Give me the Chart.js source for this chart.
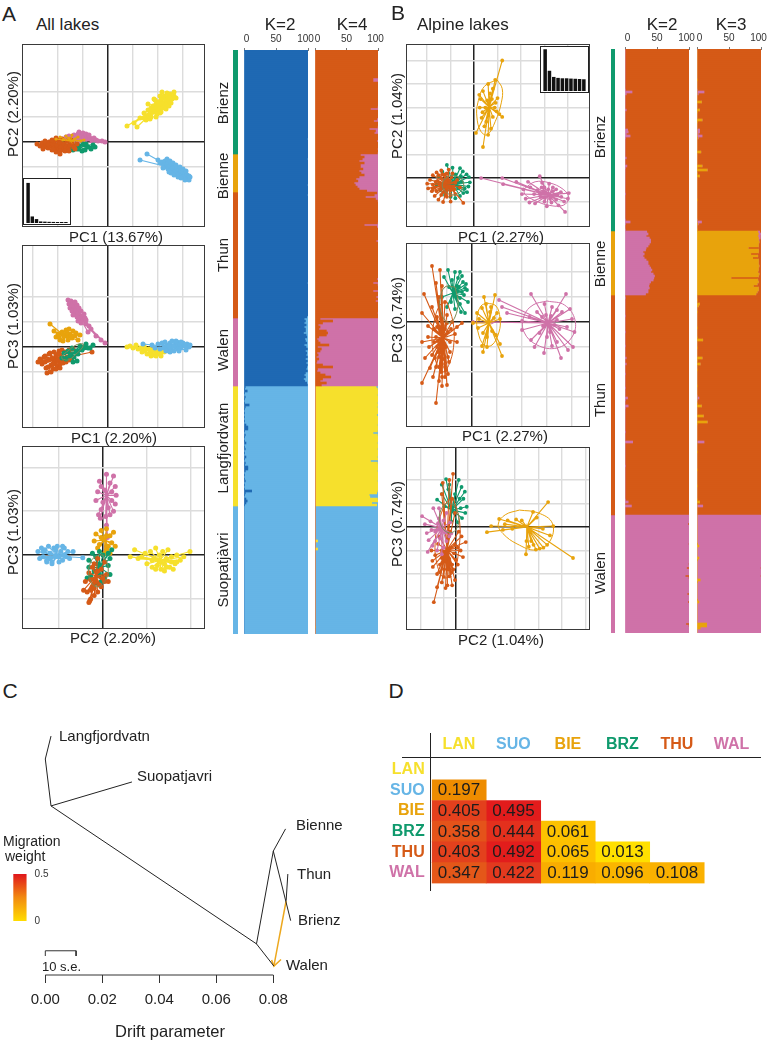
<!DOCTYPE html>
<html>
<head>
<meta charset="utf-8">
<script src="https://cdn.jsdelivr.net/npm/chart.js@4"></script>
<style>
  html, body { margin: 0; padding: 0; background: #fff; }
  body { position: relative; width: 767px; height: 1041px; overflow: hidden; font-family: "Liberation Sans", Arial, sans-serif; color: #222; }
  canvas { position: absolute; }
  .txt { position: absolute; white-space: nowrap; line-height: 1; }
  .box { position: absolute; outline: 1.5px solid #3a3a3a; }
  .rule { position: absolute; background: #222; }
</style>
</head>
<body>
<script>
// colours
const YEL = '#f6e02c', BLU = '#66b5e6', PNK = '#cf72a8', ORG = '#d55a17', GRN = '#0f9a6d', GLD = '#e8a30c', DBL = '#1f69b3';

// ---- PCA scores, first pair of every list is the group centroid ----
// A: PC1 / PC2
const a1Yellow = [[100,70],[38,32],[52,38],[58,30],[64,48],[72,58],[78,52],[80,64],[84,56],[86,68],[88,60],[90,72],[92,64],[94,60],[96,76],[98,68],[100,62],[100,80],[102,72],[104,66],[106,84],[108,76],[110,68],[110,88],[112,78],[114,72],[116,84],[118,76],[120,90],[122,82],[124,96],[128,86],[132,92],[136,88],[132,100],[130,88],[92,86],[84,46],[96,50],[104,58],[108,100],[80,76],[86,50],[94,84],[98,56],[104,92],[106,60],[112,92],[116,66],[122,72],[126,78],[118,98],[76,44],[72,48],[124,88]];
const a1Blue = [[128,-52],[78,-24],[64,-36],[100,-36],[104,-42],[108,-40],[112,-46],[114,-38],[116,-50],[118,-44],[120,-42],[120,-54],[124,-48],[126,-56],[128,-44],[130,-52],[132,-60],[134,-50],[136,-58],[138,-52],[140,-64],[142,-56],[144,-62],[146,-58],[148,-66],[150,-60],[152,-68],[154,-62],[156,-70],[158,-66],[160,-72],[162,-68],[164,-70],[162,-76],[150,-70],[136,-64],[126,-62],[110,-52],[118,-34],[124,-38],[130,-42],[136,-46],[144,-50],[150,-54],[156,-58],[122,-60],[132,-66],[140,-70],[146,-72],[154,-76]];
const a1Orange = [[-100,-6],[-142,-4],[-136,-8],[-132,-2],[-128,-10],[-124,-4],[-120,-12],[-118,0],[-116,-8],[-112,-16],[-110,-4],[-108,2],[-106,-12],[-104,-20],[-102,-6],[-100,4],[-98,-14],[-96,-2],[-94,-10],[-92,6],[-90,-16],[-88,-4],[-84,-10],[-82,2],[-80,-14],[-76,-6],[-72,-2],[-68,-10],[-62,-4],[-110,-14],[-96,-18],[-130,-14],[-120,-4],[-112,4],[-104,8],[-96,-24],[-86,-18],[-78,-18],[-74,4],[-66,-14],[-126,2]];
const a1Gold = [[-75,2],[-104,6],[-96,10],[-90,4],[-84,12],[-78,8],[-72,14],[-66,6],[-60,10],[-54,2],[-48,4]];
const a1Pink = [[-60,6],[-92,6],[-84,10],[-78,12],[-72,8],[-68,14],[-64,10],[-60,16],[-56,8],[-52,14],[-48,10],[-46,4],[-42,12],[-40,6],[-36,8],[-32,2],[-28,8],[-24,4],[-20,2],[-12,2],[-6,0],[-50,0],[-60,0],[-70,2],[-58,20],[-50,18],[-44,16],[-38,14]];
const a1Green = [[-60,-6],[-98,-16],[-84,-8],[-76,-14],[-70,-16],[-64,-8],[-62,-14],[-58,-14],[-52,-18],[-46,-16],[-40,-10],[-34,-14],[-30,-6],[-26,-10],[-50,-4],[-72,-4],[-44,-4]];

// A: PC1 / PC3
const a2Pink = [[-56,58],[-80,94],[-74,92],[-78,86],[-70,88],[-76,78],[-68,80],[-62,84],[-72,72],[-64,74],[-58,78],[-66,66],[-60,68],[-54,72],[-52,62],[-58,58],[-62,60],[-50,54],[-46,58],[-54,48],[-44,46],[-38,42],[-34,36],[-40,30],[-24,22],[-14,14],[-6,8],[-72,84],[-66,90],[-70,64],[-48,66],[-60,52],[-44,54]];
const a2Gold = [[-84,20],[-116,46],[-108,32],[-104,20],[-100,26],[-96,14],[-92,30],[-88,22],[-84,34],[-80,14],[-76,26],[-72,18],[-70,32],[-66,22],[-60,14],[-56,24],[-90,12],[-78,36],[-98,20],[-90,26],[-82,28],[-74,22],[-64,28]];
const a2Orange = [[-106,-26],[-140,-30],[-136,-24],[-132,-34],[-128,-20],[-126,-30],[-124,-42],[-122,-52],[-120,-26],[-118,-14],[-114,-36],[-112,-22],[-110,-44],[-108,-10],[-106,-30],[-104,-18],[-102,-38],[-100,-26],[-98,-8],[-96,-34],[-94,-16],[-90,-24],[-86,-10],[-82,-20],[-78,-6],[-74,-14],[-70,-4],[-120,-40],[-114,-50],[-32,-10],[-126,-18],[-116,-12],[-110,-34],[-104,-44],[-96,-42],[-90,-32],[-84,-30],[-78,-26],[-72,-22],[-134,-28],[-100,-14],[-92,-6]];
const a2Green = [[-72,-14],[-92,-22],[-88,-12],[-84,-24],[-80,-8],[-76,-18],[-72,-2],[-68,-20],[-64,-8],[-60,-14],[-56,2],[-52,-6],[-48,0],[-44,6],[-40,-2],[-36,-2],[-30,4],[-70,-30],[-62,-28]];
const a2GreenRing = [[-92,-24],[-80,-26],[-66,-16],[-52,-2],[-50,6],[-64,4],[-80,-8],[-92,-18],[-92,-24]];
const a2Yellow = [[84,-6],[38,0],[44,2],[50,-2],[56,4],[60,-4],[66,-2],[68,-10],[72,2],[74,-8],[78,-14],[82,-4],[84,-12],[88,-6],[90,-16],[94,-4],[98,-12],[100,-8],[104,-14],[108,-6],[112,-10],[116,-4],[122,-8],[76,-4],[86,-18],[96,-18],[106,-18]];
const a2Blue = [[128,0],[70,6],[88,4],[94,-2],[100,6],[104,-4],[108,8],[112,-2],[114,10],[118,4],[120,-6],[124,8],[126,-2],[128,12],[132,-8],[134,4],[138,10],[140,-4],[144,6],[146,-2],[150,8],[154,2],[158,6],[162,0],[164,4],[156,-6],[116,-8],[124,-10],[136,12],[146,10],[142,-8],[130,2],[122,2]];

// A: PC2 / PC3
const a3Pink = [[4,68],[-4,84],[4,92],[12,90],[-2,78],[8,82],[14,78],[-6,72],[2,74],[10,72],[15,68],[-8,62],[0,60],[10,62],[14,58],[-2,52],[6,54],[12,50],[-5,46],[3,44],[8,46],[-3,42],[4,34],[5,20],[4,10]];
const a3Gold = [[2,17],[-10,16],[-8,24],[-4,12],[-2,28],[0,18],[4,30],[6,10],[8,22],[10,14],[-6,8],[12,26],[4,6],[14,10],[2,2],[8,2],[-2,20],[4,22]];
const a3Green = [[-4,-14],[-16,-6],[-12,2],[-8,-2],[-4,4],[0,0],[6,2],[8,-4],[10,6],[6,-12],[8,-22],[2,-26],[-2,-30],[-8,-32],[-14,-24],[-18,-26],[-16,-14],[-10,-18],[-4,-22],[2,-8],[-6,-10]];
const a3GreenRing = [[0,0],[6,-14],[2,-30],[-8,-36],[-16,-24],[-14,-8],[-6,0],[0,0]];
const a3Orange = [[-8,-24],[-20,-30],[-18,-42],[-22,-40],[-16,-20],[-14,-50],[-15,-52],[-12,-36],[-10,-10],[-10,-46],[-8,-30],[-6,-42],[-6,-4],[-4,-34],[-2,-16],[0,-26],[2,-8],[4,-22],[6,-30],[-14,-28],[-12,-14],[-16,-54],[-10,-38],[-14,-40],[-6,-18],[-2,-36],[2,-30]];
const a3Blue = [[-52,-1],[-74,4],[-72,-4],[-70,8],[-68,-2],[-66,6],[-64,-6],[-62,10],[-60,2],[-58,-8],[-56,8],[-54,-2],[-52,10],[-50,-8],[-48,4],[-46,-6],[-44,8],[-42,-2],[-40,4],[-38,-4],[-34,4],[-23,-3],[-58,-10],[-46,10],[-64,-8],[-60,-4],[-54,6],[-50,-2],[-44,0],[-68,4]];
const a3Yellow = [[65,-6],[31,-2],[36,6],[40,-4],[44,-2],[48,2],[50,-10],[54,4],[56,-14],[58,-4],[60,8],[62,-12],[64,0],[66,-16],[68,4],[70,-10],[72,-4],[74,6],[76,-14],[78,-2],[82,-10],[84,0],[88,-6],[92,-2],[99,4],[70,-18],[80,-16],[56,-6],[60,-16],[64,-8],[72,-14],[78,-8],[84,-8]];

// B: PC1 / PC2
const b1Gold = [[32,151],[60,250],[45,209],[30,200],[11,177],[14,168],[19,185],[34,180],[40,190],[50,170],[46,160],[60,130],[54,136],[4,96],[19,66],[30,92],[36,105],[26,120],[18,140],[12,150],[48,142],[40,130],[22,110],[38,168],[28,165],[44,150],[24,150],[16,128]];
const b1GoldRing = [[49,209],[60,190],[58,160],[45,120],[28,92],[14,100],[6,130],[8,160],[22,195],[49,209]];
const b1Green = [[-45,-13],[-58,28],[-46,22],[-30,21],[-24,14],[-16,8],[-11,2],[-9,-9],[-12,-18],[-15,-30],[-23,-32],[-30,-38],[-40,-43],[-50,-40],[-62,-36],[-72,-26],[-80,-14],[-76,4],[-68,14],[-34,-22],[-20,-22],[-28,4],[-40,8],[-26,-8]];
const b1GreenRing = [[-45,6],[-30,0],[-22,-15],[-30,-30],[-45,-36],[-60,-30],[-68,-15],[-60,0],[-45,6]];
const b1Orange = [[-55,-13],[-100,-12],[-98,-22],[-94,-4],[-90,-28],[-88,6],[-84,-38],[-80,12],[-76,-46],[-72,-24],[-70,16],[-66,-51],[-62,8],[-58,-40],[-54,18],[-50,-50],[-46,10],[-40,-34],[-36,-4],[-30,-20],[-23,-53],[-88,-14],[-78,-6],[-72,-16],[-66,-30],[-60,-8],[-50,-26],[-44,-18],[-84,-20],[-62,-28],[-70,0],[-82,-8],[-76,6],[-68,8],[-58,10],[-48,2],[-40,-10],[-42,-24],[-50,-36],[-60,-36],[-70,-36],[-80,-28],[-88,-22],[-64,-18],[-52,-6],[-74,-10],[-58,-20]];
const b1Pink = [[158,-36],[15,0],[60,0],[62,-13],[90,-8],[115,-8],[120,-20],[105,-24],[102,-34],[110,-44],[118,-52],[130,-54],[142,-40],[140,4],[145,-10],[150,-20],[160,-12],[168,-20],[175,-24],[185,-30],[202,-32],[200,-44],[192,-50],[180,-58],[194,-72],[175,-46],[165,-52],[155,-60],[150,-50],[135,-26],[128,-34],[170,-36],[186,-40],[148,-28],[162,-44],[140,-34],[150,-42],[168,-28],[178,-36],[158,-24],[144,-20]];
const b1PinkRing = [[108,-22],[130,-8],[160,-10],[190,-24],[202,-42],[190,-58],[160,-58],[130,-48],[108,-34],[108,-22]];

// B: PC1 / PC3
const b2Orange = [[-58,-32],[-80,112],[-64,104],[-96,56],[-100,18],[-72,78],[-66,50],[-60,72],[-54,40],[-80,30],[-70,10],[-50,14],[-88,-8],[-40,0],[-30,-10],[-20,-2],[-34,-24],[-30,-40],[-100,-40],[-94,-72],[-86,-50],[-80,-66],[-72,-90],[-100,-122],[-72,-162],[-78,-110],[-66,-118],[-60,-128],[-50,-126],[-62,-100],[-52,-96],[-46,-80],[-56,-74],[-44,-60],[-68,-60],[-84,-92],[-76,-40],[-48,-20],[-62,-10],[-88,-30],[-70,-50],[-66,-70],[-60,-84],[-54,-90],[-48,-70],[-52,-50],[-60,-56],[-56,-44],[-72,-30],[-64,-20],[-58,-8],[-50,-2],[-42,-14],[-66,-90],[-74,-72],[-60,-110],[-54,-110],[-48,-104],[-70,-10],[-62,6],[-54,-14],[-44,-40],[-76,-14],[-68,-38]];
const b2OrangeRing = [[-50,40],[-38,0],[-36,-40],[-44,-80],[-58,-100],[-72,-80],[-80,-40],[-76,0],[-64,34],[-50,40]];
const b2Green = [[-38,58],[-48,104],[-24,100],[-10,64],[-8,40],[-14,18],[-34,100],[-56,90],[-40,84],[-28,88],[-18,80],[-16,54],[-26,70],[-46,70],[-60,50],[-50,30],[-34,26],[-24,36],[-42,40],[-32,50],[-20,92],[-12,76],[-22,20],[-30,72],[-20,60],[-14,68],[-24,48]];
const b2GreenRing = [[-34,70],[-28,40],[-34,10],[-46,-2],[-60,14],[-64,44],[-54,70],[-34,70]];
const b2Gold = [[34,-2],[46,54],[20,28],[2,-2],[22,-60],[60,-68],[56,-44],[24,50],[10,18],[14,6],[36,20],[50,18],[44,8],[56,6],[12,-12],[30,-30],[40,-18],[48,-26],[22,-22],[30,-50],[20,-48],[38,30],[28,36]];
const b2GoldRing = [[30,38],[48,32],[56,8],[54,-20],[40,-46],[24,-46],[12,-20],[10,10],[18,32],[30,38]];
const b2Pink = [[152,-2],[118,56],[188,56],[54,44],[60,30],[70,18],[2,0],[40,0],[100,2],[130,20],[145,36],[160,30],[170,24],[180,20],[196,26],[200,6],[190,-10],[205,-20],[192,-56],[202,-50],[178,-72],[144,-62],[118,-36],[100,-16],[125,-50],[160,-48],[170,-40],[150,-30],[135,-22],[140,10],[175,-14],[115,10],[148,14],[158,12],[165,-6],[142,-8],[156,-20],[170,4]];
const b2PinkRing = [[150,42],[185,34],[206,4],[200,-30],[170,-52],[130,-46],[104,-20],[104,12],[122,34],[150,42]];

// B: PC2 / PC3
const b3Gold = [[151,0],[196,53],[66,-11],[249,-66],[149,-58],[207,2],[92,17],[164,32],[110,14],[128,16],[140,14],[104,6],[75,2],[170,-48],[178,-46],[186,-44],[194,-38],[200,-18],[185,-4],[160,-30],[165,-38],[155,-42],[150,-30],[120,-4],[100,-6],[172,20]];
const b3GoldRing = [[135,36],[175,30],[205,8],[200,-30],[170,-49],[130,-36],[100,-14],[90,6],[105,26],[135,36]];
const b3Orange = [[-19,-49],[-6,113],[-28,94],[-14,100],[-47,-160],[-40,-128],[-2,-113],[21,-32],[15,-64],[-49,-85],[-30,70],[-8,60],[-2,30],[6,-10],[12,-20],[-12,-10],[-36,-20],[-30,-50],[-44,-60],[-52,-50],[-40,-100],[-30,-118],[-22,-130],[-14,-105],[-6,-90],[4,-80],[10,-50],[-34,-80],[-18,-124],[-8,-124],[-25,-90],[0,-70],[-50,-72],[-30,-66],[-22,-72],[-14,-68],[-8,-80],[-4,-56],[-16,-90],[-34,-96],[-26,-106],[-10,-96],[-2,-38],[-38,-36],[4,-44]];
const b3OrangeRing = [[-5,60],[8,10],[6,-50],[-5,-95],[-25,-108],[-40,-80],[-44,-30],[-34,20],[-18,55],[-5,60]];
const b3Green = [[-9,36],[-21,102],[6,100],[19,75],[23,43],[13,19],[-40,58],[-30,90],[-14,90],[-2,70],[12,85],[16,60],[10,40],[4,10],[-16,80],[-30,70],[-24,44],[-10,12],[20,30],[8,60]];
const b3GreenRing = [[-4,46],[6,22],[0,-6],[-17,-12],[-32,4],[-34,30],[-20,50],[-4,46]];
const b3Pink = [[-30,-2],[-72,23],[-62,-13],[-60,-53],[-54,12],[-48,40],[-66,6],[-40,-50],[-50,-40],[-20,-30],[-10,-14],[-12,10],[-20,30],[-30,-58],[-44,-30],[-36,18],[-58,-28],[-26,-44],[-14,-20],[-52,-6],[-36,40],[-44,-10],[-38,8],[-26,14],[-34,-24],[-22,-12]];

// scree insets
const screeA = [41,6.7,4,1.6,1.4,1.2,1.1,1,1,1];
const screeB = [42.7,20.7,14.4,13.4,13,13,12.7,12.5,12.3,12];

// ---- ancestry, one number per individual ----
const popRowsA = [52,19,63,34,60,64];
const popRowsB = [91,32,110,59];
const shareTicks = [0, 50, 100];

// A K=2, share of the dark blue cluster
const aK2Brienz = [100,100,100,100,100,100,100,100,100,100,
  100,100,100,100,100,100,100,100,100,100,
  100,100,100,100,100,100,100,100,100,100,
  100,100,100,100,100,100,100,100,100,100,
  100,100,100,100,99,100,100,100,100,100,
  100,100];
const aK2Bienne = [100,100,99,100,100,100,100,100,100,100,100,100,100,100,100,99,100,100,100];
const aK2Thun = [100,99,100,100,100,100,100,100,100,100,
  100,100,100,100,100,100,100,100,100,100,
  100,100,100,100,100,100,100,100,100,100,
  100,100,100,100,100,100,100,100,100,100,
  100,100,100,100,100,99,100,100,100,100,
  100,100,100,100,100,100,100,100,100,100,100,100,98];
const aK2Walen = [94,96,94,97,94,96,96,93,97,98,
  95,96,98,94,97,99,96,98,97,99,
  96,99,97,99,98,97,99,96,94,96,
  93,95,98,99];
const aK2Lang = [2,1,5,1,0,2,1,0,1,8,
  2,1,0,1,0,1,0,1,0,3,
  6,6,1,0,2,1,0,1,3,0,
  1,2,0,1,0,3,1,0,2,1,
  6,6,2,0,1,0,1,2,0,1,
  0,1,12,2,1,0,3,5,3,1];
const aK2Suo = [0,0,0,0,0,0,0,0,0,0,0,0,0,0,0,0,
  0,0,0,0,0,0,0,0,0,0,0,0,0,0,0,0,
  0,0,0,0,0,0,0,0,0,0,0,0,0,0,0,0,
  0,0,0,0,0,0,0,0,0,0,0,0,0,0,0,0];

// A K=4
const aK4BrienzPink = [0,0,0,0,0,0,0,0,0,0,
  0,0,0,0,8,8,0,0,0,0,
  0,0,0,0,0,0,0,0,1,12,
  0,0,0,0,2,7,0,0,1,14,
  4,6,0,0,0,2,0,0,0,1,0,1];
const aK4BiennePink = [28,22,25,30,22,28,28,24,30,27,22,30,35,32,38,36,33,30,18];
const aK4ThunPink = [2,6,20,4,1,0,0,0,0,0,
  0,0,0,0,0,1,22,2,0,0,
  0,0,0,0,3,0,0,0,0,0,
  0,0,0,0,0,0,0,0,0,0,
  0,0,0,2,0,8,1,0,0,8,
  0,0,3,0,4,0,0,0,0,0,1,0,0];
const aK4WalenOrange = [8,28,12,5,8,6,18,20,18,6,
  3,5,8,22,4,10,8,3,5,2,
  6,3,2,12,28,4,3,8,16,25,
  12,8,18,10];
const aK4LangBlue = [3,1,0,0,1,0,0,0,1,0,
  1,0,0,0,2,0,0,0,0,1,
  0,0,1,8,1,0,0,0,1,0,
  0,1,0,0,0,1,0,12,1,0,
  0,0,1,0,0,0,0,1,0,0,
  0,0,1,2,14,13,1,0,10,2];
const aK4SuoYellow = [0,0,0,0,0,0,0,0,0,0,0,0,0,0,0,0,0,4,0,0,0,4,0,0,0,0,0,0,0,0,0,0,
  0,0,0,0,0,0,0,0,0,0,0,0,0,0,0,0,0,0,0,0,0,0,0,0,0,0,0,0,1,0,0,0];

// B K=2
const bK2BrienzPink = [0,0,0,0,0,0,0,0,0,0,
  0,0,0,0,0,0,0,0,0,0,
  1,11,2,0,0,0,0,0,0,0,
  2,0,0,0,0,0,0,0,0,0,
  4,5,2,8,1,0,0,0,0,0,
  0,0,0,0,2,0,0,0,3,1,
  0,0,0,0,0,0,0,0,0,0,
  0,0,1,0,0,0,0,0,0,0,
  0,0,0,0,0,1,8,1,0,0,1];
const bK2BiennePink = [34,36,33,38,40,40,38,36,33,32,28,30,28,30,33,36,36,38,40,42,40,44,46,45,44,40,38,37,38,36,36,32];
const bK2ThunPink = [0,1,0,0,0,0,0,0,0,0,
  1,0,0,0,0,0,0,0,1,0,
  0,0,0,0,0,1,0,0,0,0,
  0,2,0,0,2,0,0,0,0,1,
  0,0,0,0,0,0,1,0,0,0,
  0,4,1,0,0,5,1,0,0,0,
  0,0,0,0,0,0,0,0,1,0,
  0,0,0,12,0,0,0,0,0,0,
  0,0,0,0,0,1,0,0,0,0,
  0,0,0,0,0,0,0,0,0,0,
  0,0,1,5,0,10,0,0,0,0];
const bK2WalenOrange = [0,0,0,0,2,0,0,0,0,0,
  0,0,0,0,1,0,0,0,0,0,
  0,0,0,0,1,0,4,0,0,0,
  6,1,0,0,0,0,0,0,0,3,
  0,0,0,2,0,0,0,0,0,0,
  0,0,0,0,5,1,0,0,0];

// B K=3
const bK3BrienzGold = [0,0,0,0,0,0,0,0,0,0,
  0,0,0,0,0,1,0,0,0,0,
  0,0,0,0,0,0,7,0,0,0,
  4,1,0,0,0,8,1,0,0,0,
  0,0,0,0,1,0,0,0,0,0,
  0,6,0,0,0,0,0,0,8,1,
  16,0,1,4,0,0,0,0,0,0,
  0,0,0,0,0,1,0,0,0,0,
  0,0,0,0,0,0,0,1,0,0,1];
const bK3BrienzPink = [0,0,0,0,0,0,0,0,0,0,
  0,0,0,0,0,0,0,0,0,0,
  1,11,2,0,0,0,0,0,0,0,
  0,0,0,0,0,0,0,0,0,0,
  4,4,2,8,1,0,0,0,0,0,
  0,0,0,0,0,0,0,0,0,0,
  0,0,0,0,0,0,0,0,0,0,
  0,0,0,0,0,0,0,0,0,0,
  0,0,0,0,0,1,7,1,0,0,0];
const bK3BienneGold = [95,96,95,96,96,97,96,96,80,96,96,84,95,87,96,96,96,97,96,96,95,97,96,53,95,96,94,88,96,96,94,92];
const bK3BiennePink = [3,4,4,3,1,0,0,0,0,0,0,0,0,0,0,0,0,0,0,0,0,0,0,0,0,0,0,0,0,0,0,0];
const bK3ThunGold = [0,0,1,0,4,2,0,0,1,0,
  0,0,0,0,0,0,1,0,0,0,
  0,1,9,0,0,0,1,0,0,0,
  0,8,1,0,5,0,0,1,0,0,
  0,0,0,0,0,1,0,0,0,0,
  0,0,0,0,1,7,0,0,0,0,
  10,0,0,16,1,0,0,0,0,0,
  0,0,0,0,0,0,0,0,1,0,
  0,0,0,0,0,0,0,1,0,0,
  0,0,0,0,0,1,0,0,0,0,
  0,0,1,4,0,0,0,0,0,0];
const bK3ThunPink = [0,0,0,0,0,0,0,0,0,0,
  0,0,0,0,0,0,0,0,0,0,
  0,0,0,0,0,0,0,0,0,0,
  0,0,0,0,0,0,0,0,0,0,
  0,0,0,0,0,0,0,0,0,0,
  1,3,1,0,0,0,0,0,0,0,
  0,0,0,0,0,0,0,0,0,0,
  0,0,0,11,0,0,0,0,0,0,
  0,0,0,0,0,0,0,0,0,0,
  0,0,0,0,0,0,0,0,0,0,
  0,0,0,0,0,9,0,0,0,0];
const bK3WalenGold = [0,0,0,0,0,0,0,0,0,0,
  0,0,0,0,1,3,0,0,0,0,
  0,3,1,0,0,0,0,0,0,0,
  0,0,5,1,0,0,0,0,0,0,
  0,0,1,3,0,0,0,0,0,0,
  0,0,0,0,15,15,5,0,0];
const bK3WalenOrange = [0,0,0,0,0,0,0,0,0,0,
  0,0,0,0,0,0,0,0,0,0,
  0,0,0,0,0,0,1,0,0,0,
  1,0,0,0,0,0,0,0,0,0,
  0,0,0,0,0,0,0,0,0,0,
  0,0,0,0,0,0,0,0,0];

// ---- treemix graph, drift on x ----
const driftTicks = [0, 0.02, 0.04, 0.06, 0.08];
const driftAxis = [[0,0],[0.08,0]];
const langBranch = [[0.002,0.937],[0,0.847],[0.002,0.663]];
const suoBranch = [[0.002,0.663],[0.0304,0.757]];
const trunkBranch = [[0.002,0.663],[0.0741,0.122],[0.0802,0.035]];
const alpineBranch = [[0.0741,0.122],[0.08,0.486],[0.0843,0.573]];
const brienzBranch = [[0.08,0.486],[0.0861,0.213]];
const thunBranch = [[0.0845,0.291],[0.0851,0.396]];
const migrationEdge = [[0.0845,0.291],[0.0802,0.035]];
const migrationHead = [[0.0794,0.059],[0.0802,0.035],[0.0827,0.061]];
const scaleBar10se = [[0,0.0745],[0,0.095],[0.0108,0.095],[0.0108,0.0745]];

// ---- Fst table ----
const lakeCodes = ['LAN','SUO','BIE','BRZ','THU','WAL'];
const lakeColours = [YEL, BLU, GLD, GRN, ORG, PNK];
const fstLAN = [];
const fstSUO = [0.197];
const fstBIE = [0.405,0.495];
const fstBRZ = [0.358,0.444,0.061];
const fstTHU = [0.403,0.492,0.065,0.013];
const fstWAL = [0.347,0.422,0.119,0.096,0.108];
const fstStops = [[0,255,232,0],[0.06,253,194,0],[0.12,249,173,0],[0.2,238,139,0],[0.35,228,86,26],[0.42,227,58,30],[0.5,226,26,28]];

// ---- helpers ----
Chart.defaults.font.family = '"Liberation Sans", Arial, sans-serif';
Chart.defaults.animation = false;
Chart.defaults.responsive = false;
Chart.defaults.layout.autoPadding = false;
Chart.defaults.plugins.legend.display = false;
Chart.defaults.plugins.tooltip.enabled = false;

function addCanvas(left, top, w, h) {
  const c = document.createElement('canvas');
  c.width = w; c.height = h;
  c.style.left = left + 'px'; c.style.top = top + 'px';
  c.style.width = w + 'px'; c.style.height = h + 'px';
  document.body.appendChild(c);
  return c;
}
function text(str, x, y, size, opt) {
  opt = opt || {};
  const d = document.createElement('div');
  d.className = 'txt';
  d.textContent = str;
  d.style.left = x + 'px'; d.style.top = y + 'px';
  d.style.fontSize = size + 'px';
  if (opt.rot) d.style.transform = 'translate(-50%,-50%) rotate(-90deg)';
  else if (opt.left) d.style.transform = 'translateY(-50%)';
  else d.style.transform = 'translate(-50%,-50%)';
  document.body.appendChild(d);
}
function rule(l, t, w, h) {
  const d = document.createElement('div');
  d.className = 'rule';
  d.style.cssText = `left:${l}px;top:${t}px;width:${w}px;height:${h}px`;
  document.body.appendChild(d);
}
function spider(list, colour, r) {
  const c = list[0], data = [], size = r || 1.9;
  list.slice(1).forEach(p => { data.push({x:c[0],y:c[1]}); data.push({x:p[0],y:p[1]}); });
  return { data, showLine:true, borderColor:colour, backgroundColor:colour, borderWidth:1.1,
    pointRadius: ctx => ctx.dataIndex % 2 ? size : 0, pointBorderWidth:0 };
}
function ring(list, colour) {
  return { data:list.map(p => ({x:p[0],y:p[1]})), showLine:true, borderColor:colour, borderWidth:1, pointRadius:0, tension:0.4 };
}
// layers are given bottom to top, chart.js paints the first dataset last
function pcaPanel(l, t, w, h, xr, yr, xGrid, yGrid, layers) {
  const grid = { color: ctx => ctx.tick.value === 0 ? '#222' : '#dcdcdc', lineWidth: ctx => ctx.tick.value === 0 ? 1.5 : 1.4, drawTicks:false };
  new Chart(addCanvas(l, t, w, h), {
    type:'scatter',
    data:{ datasets: layers.slice().reverse() },
    options:{
      layout:{ padding:0 },
      scales:{
        x:{ min:xr[0], max:xr[1], grid, border:{display:false}, ticks:{display:false},
            afterBuildTicks: s => { s.ticks = xGrid.map(v => ({value:v})); } },
        y:{ min:yr[0], max:yr[1], grid, border:{display:false}, ticks:{display:false},
            afterBuildTicks: s => { s.ticks = yGrid.map(v => ({value:v})); } }
      }
    }
  });
  const b = document.createElement('div');
  b.className = 'box';
  b.style.cssText = `left:${l}px;top:${t}px;width:${w}px;height:${h}px`;
  document.body.appendChild(b);
}
function scree(l, t, w, h, values) {
  const b = document.createElement('div');
  b.className = 'box';
  b.style.cssText = `left:${l}px;top:${t}px;width:${w}px;height:${h}px;background:#fff;outline-color:#222`;
  document.body.appendChild(b);
  new Chart(addCanvas(l, t, w, h), {
    type:'bar',
    data:{ labels:values.map((v,i) => i+1), datasets:[{ data:values, backgroundColor:'#111', barPercentage:0.82, categoryPercentage:1 }] },
    options:{
      layout:{ padding:{left:2,right:2,top:0,bottom:1} },
      scales:{ x:{display:false}, y:{display:false,min:0,max:45} }
    }
  });
}
function ancestry(l, t, w, rows, series) {
  const head = 20, side = 12, marks = 3;
  new Chart(addCanvas(l-side, t-head, w+2*side, rows*2+head), {
    type:'bar',
    data:{ labels:series[0].data.map((v,i) => i),
      datasets:series.map(s => ({ data:s.data, backgroundColor:s.colour, borderWidth:0, barPercentage:1, categoryPercentage:1 })) },
    options:{
      indexAxis:'y',
      layout:{ padding:{left:side,right:side,top:0,bottom:0} },
      scales:{
        y:{ display:false, stacked:true },
        // the axis with the marks, its labels live on the slightly wider axis above it
        x:{ position:'top', stacked:true, min:0, max:100, weight:0,
            border:{color:'#777',width:1},
            grid:{drawOnChartArea:false,color:'#777',tickLength:2},
            ticks:{display:false},
            afterBuildTicks: s => { s.ticks = shareTicks.map(v => ({value:v})); },
            afterFit: s => { s.height = marks; } },
        shareLabels:{ axis:'x', position:'top', min:-4.2, max:104.2, weight:1,
            border:{display:false},
            grid:{display:false,drawTicks:false},
            ticks:{color:'#333',font:{size:10},padding:2,maxRotation:0,autoSkip:false},
            afterBuildTicks: s => { s.ticks = shareTicks.map(v => ({value:v})); },
            afterFit: s => { s.height = head - marks; } }
      }
    }
  });
}
function strip(l, t, w, counts, colours) {
  const total = counts.reduce((a,b) => a+b, 0);
  new Chart(addCanvas(l, t, w, total*2), {
    type:'bar',
    data:{ labels:['rows'], datasets:counts.map((n,i) => ({ data:[n], backgroundColor:colours[i], barPercentage:1, categoryPercentage:1 })) },
    options:{ layout:{padding:0}, scales:{ x:{display:false,stacked:true}, y:{display:false,stacked:true,reverse:true,min:0,max:total} } }
  });
}
const less = v => 100 - v;
const zeros = n => new Array(n).fill(0);

// ---- panel A ----
const RA = 2.5;
text('A', 9, 13, 21);
text('All lakes', 36, 24, 17, {left:true});
pcaPanel(23, 45, 181, 181, [-170,192], [-168,194], [-100,-50,0,50,100,150], [-50,0,50,100],
  [spider(a1Yellow,YEL,RA), spider(a1Blue,BLU,RA), spider(a1Pink,PNK,RA), spider(a1Green,GRN,RA), spider(a1Orange,ORG,RA), spider(a1Gold,GLD,1.6)]);
scree(24, 179, 46, 45, screeA);
pcaPanel(23, 246, 181, 181, [-170,192], [-160,202], [-150,-100,-50,0,50,100,150], [-50,0,50,100],
  [spider(a2Yellow,YEL,RA), spider(a2Blue,BLU,RA), spider(a2Pink,PNK,RA), spider(a2Gold,GLD,RA), spider(a2Orange,ORG,RA), spider(a2Green,GRN,RA), ring(a2GreenRing,'#7b8a55')]);
pcaPanel(23, 447, 181, 181, [-91,115], [-83,123], [-50,0,50,100], [-50,0,50,100],
  [spider(a3Blue,BLU,RA), spider(a3Yellow,YEL,RA), spider(a3Pink,PNK,RA), spider(a3Gold,GLD,RA), spider(a3Green,GRN,RA), spider(a3Orange,ORG,RA), ring(a3GreenRing,'#7b8a55')]);
text('PC2 (2.20%)', 12, 114, 15, {rot:true});
text('PC1 (13.67%)', 116, 236, 15);
text('PC3 (1.03%)', 12, 326, 15, {rot:true});
text('PC1 (2.20%)', 114, 437, 15);
text('PC3 (1.03%)', 12, 532, 15, {rot:true});
text('PC2 (2.20%)', 113, 637, 15);

strip(233, 50, 5, popRowsA, [GRN,GLD,ORG,PNK,YEL,BLU]);
text('Brienz', 222, 103, 15, {rot:true});
text('Bienne', 222, 176, 15, {rot:true});
text('Thun', 222, 255, 15, {rot:true});
text('Walen', 222, 350, 15, {rot:true});
text('Langfjordvatn', 222, 448, 15, {rot:true});
text('Suopatjàvri', 222, 570, 15, {rot:true});

const aDark = [...aK2Brienz, ...aK2Bienne, ...aK2Thun, ...aK2Walen, ...aK2Lang, ...aK2Suo];
ancestry(244, 50, 64, 292, [ {data:aDark, colour:DBL}, {data:aDark.map(less), colour:BLU} ]);
const alpineRows = 52+19+63+34;
ancestry(315, 50, 63, 292, [
  {data:[...aK4BrienzPink.map(less), ...aK4BiennePink.map(less), ...aK4ThunPink.map(less), ...aK4WalenOrange, ...zeros(124)], colour:ORG},
  {data:[...aK4BrienzPink, ...aK4BiennePink, ...aK4ThunPink, ...aK4WalenOrange.map(less), ...zeros(124)], colour:PNK},
  {data:[...zeros(alpineRows), ...aK4LangBlue.map(less), ...aK4SuoYellow], colour:YEL},
  {data:[...zeros(alpineRows), ...aK4LangBlue, ...aK4SuoYellow.map(less)], colour:BLU}
]);
text('K=2', 280, 24, 17);
text('K=4', 352, 24, 17);

// ---- panel B ----
text('B', 398, 12, 21);
text('Alpine lakes', 417, 24, 17, {left:true});
pcaPanel(407, 45, 182, 181, [-143,245], [-102,283], [-100,-50,0,50,100,150,200], [-50,0,50,100,150,200,250],
  [spider(b1Gold,GLD), ring(b1GoldRing,GLD), spider(b1Pink,PNK), ring(b1PinkRing,PNK), spider(b1Green,GRN), spider(b1Orange,ORG), ring(b1GreenRing,'#7b8a55')]);
scree(541, 47, 47, 45, screeB);
pcaPanel(407, 244, 182, 182, [-130,234], [-208,156], [-100,-50,0,50,100,150,200], [-150,-100,-50,0,50,100],
  [spider(b2Pink,PNK), ring(b2PinkRing,PNK), spider(b2Gold,GLD), ring(b2GoldRing,GLD), spider(b2Green,GRN), spider(b2Orange,ORG), ring(b2OrangeRing,ORG), ring(b2GreenRing,'#7b8a55')]);
pcaPanel(407, 448, 182, 181, [-104,283], [-217,168], [-75,-25,0,25,126,176,225,275], [-150,-100,-50,0,50,100],
  [spider(b3Gold,GLD), ring(b3GoldRing,GLD), spider(b3Green,GRN), spider(b3Orange,ORG), ring(b3OrangeRing,ORG), spider(b3Pink,PNK), ring(b3GreenRing,'#7b8a55')]);
text('PC2 (1.04%)', 396, 116, 15, {rot:true});
text('PC1 (2.27%)', 501, 236, 15);
text('PC3 (0.74%)', 396, 320, 15, {rot:true});
text('PC1 (2.27%)', 505, 435, 15);
text('PC3 (0.74%)', 396, 524, 15, {rot:true});
text('PC2 (1.04%)', 501, 639, 15);

strip(611, 49, 4, popRowsB, [GRN,GLD,ORG,PNK]);
text('Brienz', 599, 137, 15, {rot:true});
text('Bienne', 599, 264, 15, {rot:true});
text('Thun', 599, 400, 15, {rot:true});
text('Walen', 599, 573, 15, {rot:true});

const bPink2 = [...bK2BrienzPink, ...bK2BiennePink, ...bK2ThunPink, ...bK2WalenOrange.map(less)];
ancestry(625, 49, 64, 292, [ {data:bPink2, colour:PNK}, {data:bPink2.map(less), colour:ORG} ]);
const bGold3 = [...bK3BrienzGold, ...bK3BienneGold, ...bK3ThunGold, ...bK3WalenGold];
const bPink3 = [...bK3BrienzPink, ...bK3BiennePink, ...bK3ThunPink, ...bK3WalenGold.map((g,i) => 100 - g - bK3WalenOrange[i])];
ancestry(697, 49, 64, 292, [
  {data:bGold3, colour:GLD},
  {data:bPink3, colour:PNK},
  {data:bGold3.map((g,i) => 100 - g - bPink3[i]), colour:ORG}
]);
text('K=2', 662, 24, 17);
text('K=3', 731, 24, 17);

// ---- panel C ----
text('C', 10, 690, 21);
const line = (pts, colour, width) => ({ data:pts.map(p => ({x:p[0],y:p[1]})), showLine:true, borderColor:colour, borderWidth:width || 1, pointRadius:0, clip:false });
new Chart(addCanvas(0, 720, 380, 321), {
  type:'scatter',
  data:{ datasets:[
    line(langBranch,'#222'), line(suoBranch,'#222'), line(trunkBranch,'#222'), line(alpineBranch,'#222'),
    line(brienzBranch,'#222'), line(thunBranch,'#222'),
    line(migrationEdge,'#eda81e',1.5), line(migrationHead,'#eda81e',1.5), line(scaleBar10se,'#333'), line(driftAxis,'#333')
  ]},
  options:{
    layout:{ padding:{left:45.3,right:49.7,top:0,bottom:0} },
    scales:{
      y:{ display:false, min:0, max:1 },
      x:{ min:0, max:0.1,
          border:{display:false},
          grid:{drawOnChartArea:false,color:'#333',tickLength:8},
          ticks:{ color:'#222', font:{size:15}, padding:8, maxRotation:0, autoSkip:false, callback:v => v.toFixed(2) },
          afterBuildTicks: s => { s.ticks = driftTicks.map(v => ({value:v})); },
          afterFit: s => { s.height = 66; } }
    }
  }
});
text('Drift parameter', 170, 1031, 16.5);
text('Langfjordvatn', 59, 735, 15, {left:true});
text('Suopatjavri', 137, 775, 15, {left:true});
text('Bienne', 296, 824, 15, {left:true});
text('Thun', 297, 873, 15, {left:true});
text('Brienz', 298, 919, 15, {left:true});
text('Walen', 286, 964, 15, {left:true});
text('10 s.e.', 42, 966, 13, {left:true});
text('Migration', 3, 841, 14, {left:true});
text('weight', 5, 856, 14, {left:true});

// migration colour key
new Chart(addCanvas(10, 860, 50, 75), {
  type:'bar',
  data:{ labels:['w'], datasets:[{ data:[[0,0.5]], barPercentage:1, categoryPercentage:1,
    backgroundColor: ctx => {
      const a = ctx.chart.chartArea;
      if (!a) return '#f00';
      const g = ctx.chart.ctx.createLinearGradient(0, a.bottom, 0, a.top);
      g.addColorStop(0, '#ffdc00'); g.addColorStop(0.5, '#f28a10'); g.addColorStop(1, '#e0161c');
      return g;
    } }] },
  options:{
    layout:{ padding:{left:3.3,right:0,top:9,bottom:10} },
    scales:{
      x:{ display:false },
      y:{ position:'right', min:0, max:0.5, border:{display:false}, grid:{display:false,drawTicks:false},
          ticks:{ color:'#333', font:{size:10}, padding:8, autoSkip:false },
          afterBuildTicks: s => { s.ticks = [{value:0},{value:0.5}]; },
          afterFit: s => { s.width = 33.4; } }
    }
  }
});

// ---- panel D ----
text('D', 396, 690, 21);
const fstRows = [fstLAN, fstSUO, fstBIE, fstBRZ, fstTHU, fstWAL];
function fstColour(v) {
  let i = 0;
  while (i < fstStops.length-2 && v > fstStops[i+1][0]) i++;
  const a = fstStops[i], b = fstStops[i+1], t = (v-a[0])/(b[0]-a[0]);
  return `rgb(${[1,2,3].map(k => Math.round(a[k]+(b[k]-a[k])*t)).join(',')})`;
}
const fstValues = {
  id:'fstValues',
  afterDatasetsDraw(chart) {
    const c = chart.ctx;
    c.save();
    c.font = '17px "Liberation Sans", Arial, sans-serif';
    c.fillStyle = '#1c1c1c'; c.textAlign = 'center'; c.textBaseline = 'middle';
    chart.data.datasets.forEach((ds, j) => {
      chart.getDatasetMeta(j).data.forEach((el, i) => {
        if (fstRows[i][j] === undefined) return;
        c.fillText(fstRows[i][j].toFixed(3), (el.x + el.base)/2, el.y + 0.5);
      });
    });
    c.restore();
  }
};
new Chart(addCanvas(380, 730, 387, 170), {
  type:'bar',
  plugins:[fstValues],
  data:{ labels:lakeCodes,
    datasets:lakeCodes.slice(0,5).map((code, j) => ({
      label:code,
      data:fstRows.map(r => r[j] === undefined ? null : [j, j+1]),
      backgroundColor:fstRows.map(r => r[j] === undefined ? 'transparent' : fstColour(r[j])),
      barPercentage:1, categoryPercentage:1, grouped:false, borderWidth:0
    })) },
  options:{
    indexAxis:'y',
    layout:{ padding:{left:0,right:8.3,top:0,bottom:9} },
    scales:{
      y:{ type:'category', border:{display:false}, grid:{display:false,drawTicks:false},
          ticks:{ padding:7, autoSkip:false, font:{size:16,weight:'bold'}, color:ctx => lakeColours[ctx.index] },
          afterFit: s => { s.width = 51.7; } },
      x:{ position:'top', min:0, max:6, border:{display:false}, grid:{display:false,drawTicks:false},
          ticks:{ padding:5, autoSkip:false, maxRotation:0, font:{size:16,weight:'bold'}, color:ctx => lakeColours[ctx.index], callback:(v,i) => lakeCodes[i] },
          afterBuildTicks: s => { s.ticks = lakeCodes.map((c,i) => ({value:i+0.5})); },
          afterFit: s => { s.height = 29; } }
    }
  }
});
rule(429.5, 733, 1.5, 158);
rule(402, 756.5, 359, 1.5);
</script>
</body>
</html>
